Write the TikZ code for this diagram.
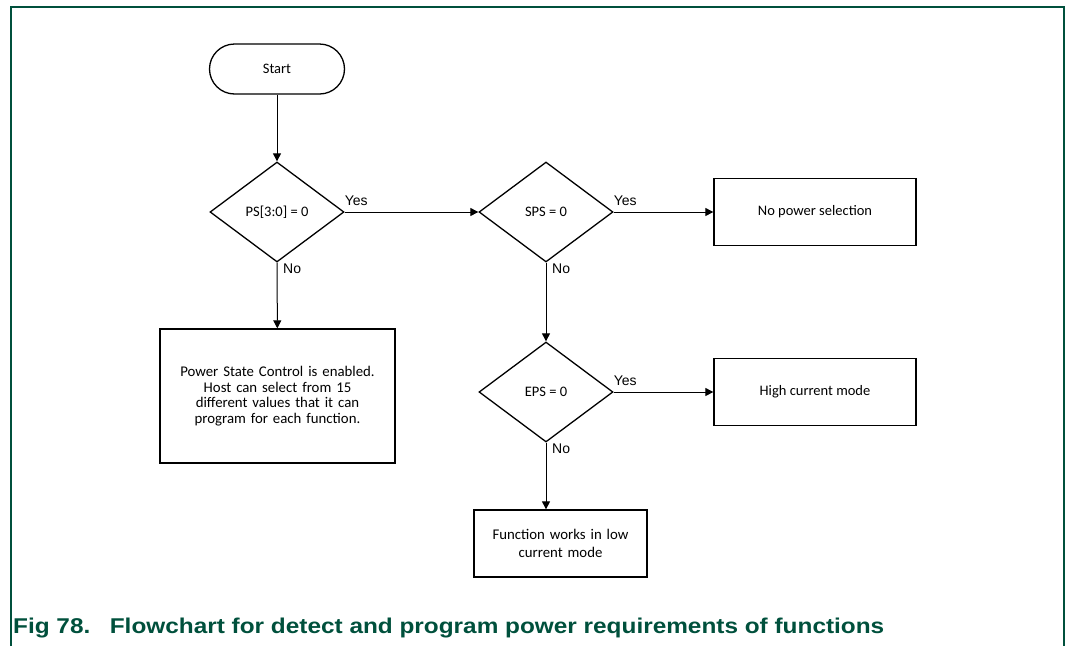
\documentclass[tikz,border=0pt]{standalone}
\usepackage{fontspec}
\setmainfont{Carlito}
\newfontfamily\arial{Liberation Sans}
\usetikzlibrary{shapes.geometric,arrows.meta}
\definecolor{nxpgreen}{HTML}{00503C}
\begin{document}
\begin{tikzpicture}[x=1pt,y=-1pt,
  every node/.style={font=\fontsize{14.5}{16}\selectfont},
  shp/.style={draw=black,line width=1.3pt},
  term/.style={shp,rectangle,rounded corners=25pt,minimum width=135pt,minimum height=50pt,inner sep=0pt},
  dec/.style={shp,diamond,minimum width=134pt,minimum height=100pt,inner sep=0pt},
  proc/.style={shp,rectangle,inner sep=0pt,align=center},
  conn/.style={line width=1pt,-{Triangle[length=8pt,width=8pt]}},
  lbl/.style={font=\arial\fontsize{14}{15}\selectfont,inner sep=1pt}]
\useasboundingbox (0,0) rectangle (1066,646);
\draw[nxpgreen,line width=1.3pt] (11,646) -- (11,7) -- (1064,7) -- (1064,646);

\node[term] (start) at (277,69) {Start};
\node[dec] (d1) at (277,212) {PS[3:0] = 0};
\node[proc,minimum width=235pt,minimum height=134pt,text width=225pt,
      font=\fontsize{14.8}{15.6}\selectfont] (b1) at (277.5,396)
  {Power State Control is enabled.\\Host can select from 15\\different values that it can\\program for each function.};
\node[dec] (d2) at (546,212) {SPS = 0};
\node[proc,minimum width=202pt,minimum height=67pt] (b2) at (815,212) {No power selection};
\node[dec] (d3) at (546,392) {EPS = 0};
\node[proc,minimum width=202pt,minimum height=67pt] (b3) at (815,392) {High current mode};
\node[proc,minimum width=173pt,minimum height=67pt,text width=165pt,
      font=\fontsize{14.8}{18}\selectfont] (b4) at (560.5,543.5)
  {Function works in low\\current mode};

\draw[conn] (start) -- (d1);
\draw[conn] (d1) -- (b1);
\draw[conn] (d1) -- (d2);
\draw[conn] (d2) -- (b2);
\draw[conn] (d2) -- (d3);
\draw[conn] (d3) -- (b3);
\draw[conn] (d3.south) -- (d3.south |- b4.north);

\node[lbl,anchor=south west] at ([yshift=5pt,xshift=-1pt]d1.east) {Yes};
\node[lbl,anchor=north west] at ([xshift=5pt]d1.south) {No};
\node[lbl,anchor=south west] at ([yshift=5pt,xshift=-1pt]d2.east) {Yes};
\node[lbl,anchor=north west] at ([xshift=5pt]d2.south) {No};
\node[lbl,anchor=south west] at ([yshift=5pt,xshift=-1pt]d3.east) {Yes};
\node[lbl,anchor=north west] at ([xshift=5pt]d3.south) {No};

\node[anchor=base west,inner sep=0pt,text=nxpgreen] (cap) at (13,633)
  {\resizebox{871pt}{15.5pt}{\arial\bfseries Fig 78.\hspace{0.8em}Flowchart for detect and program power requirements of functions}};
\end{tikzpicture}
\end{document}
